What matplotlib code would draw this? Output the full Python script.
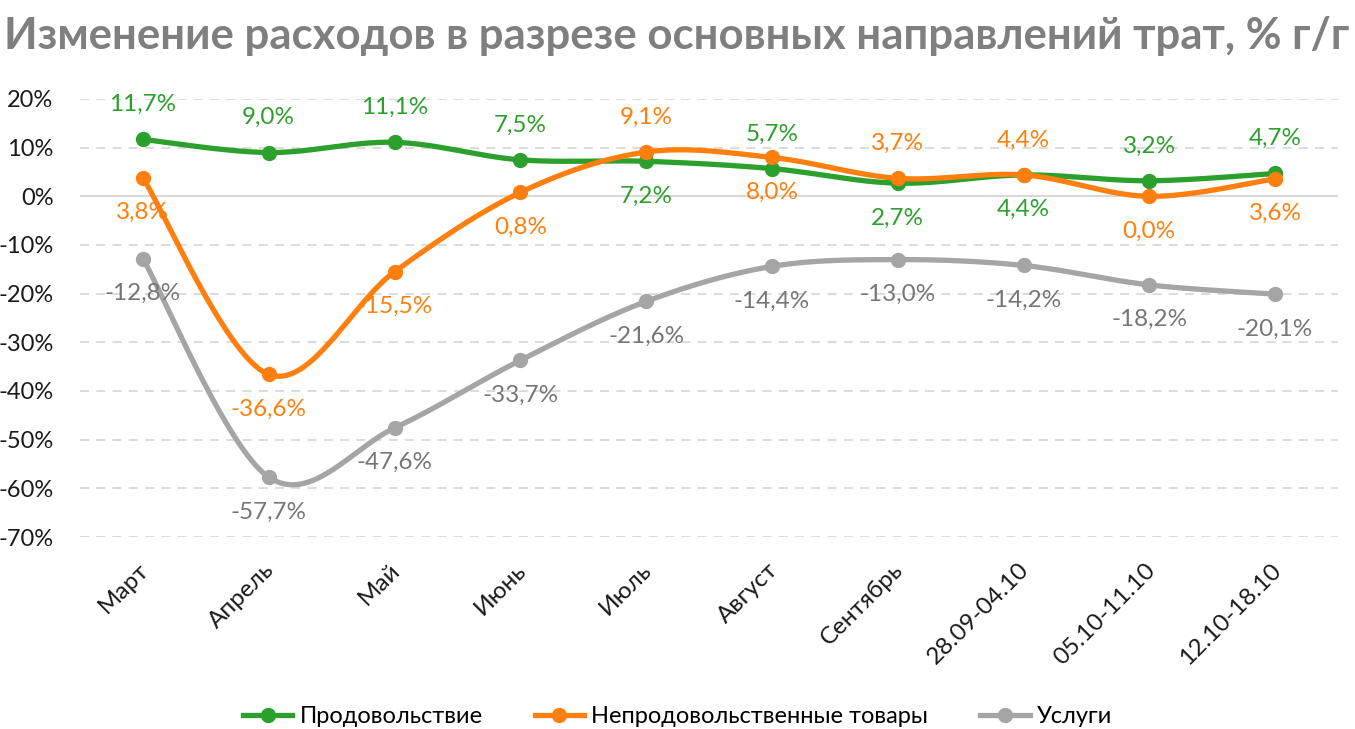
import numpy as np
import matplotlib
matplotlib.use("Agg")
import matplotlib.pyplot as plt
from matplotlib.lines import Line2D
import matplotlib.transforms as mtransforms

plt.rcParams['font.family'] = ['Lato', 'DejaVu Sans']

title = "Изменение расходов в разрезе основных направлений трат, % г/г"
categories = ["Март", "Апрель", "Май", "Июнь", "Июль", "Август", "Сентябрь",
              "28.09-04.10", "05.10-11.10", "12.10-18.10"]
series_names = ["Продовольствие", "Непродовольственные товары", "Услуги"]
food = [11.7, 9.0, 11.1, 7.5, 7.2, 5.7, 2.7, 4.4, 3.2, 4.7]
nonfood = [3.8, -36.6, -15.5, 0.8, 9.1, 8.0, 3.7, 4.4, 0.0, 3.6]
services = [-12.8, -57.7, -47.6, -33.7, -21.6, -14.4, -13.0, -14.2, -18.2, -20.1]
# label placement: +1 above, -1 below
food_pos = [1, 1, 1, 1, -1, 1, -1, -1, 1, 1]
nonfood_pos = [-1, -1, -1, -1, 1, -1, 1, 1, -1, -1]
services_pos = [-1] * 10
yticks = [20, 10, 0, -10, -20, -30, -40, -50, -60, -70]

colors = ["#2ca02c", "#ff7f0e", "#a5a5a5"]
label_colors = ["#2ca02c", "#ff7f0e", "#767676"]


def smooth(xs, ys, n=40):
    P = np.column_stack([xs, ys]).astype(float)
    P_ext = np.vstack([P[0], P, P[-1]])
    out = []
    t = np.linspace(0, 1, n)[:, None]
    for i in range(len(P) - 1):
        p0, p1, p2, p3 = P_ext[i], P_ext[i + 1], P_ext[i + 2], P_ext[i + 3]
        c1 = p1 + (p2 - p0) / 6.0
        c2 = p2 - (p3 - p1) / 6.0
        seg = ((1 - t) ** 3) * p1 + 3 * ((1 - t) ** 2) * t * c1 + 3 * (1 - t) * t ** 2 * c2 + t ** 3 * p2
        out.append(seg if i == 0 else seg[1:])
    arr = np.vstack(out)
    return arr[:, 0], arr[:, 1]


fig = plt.figure(figsize=(13.55, 7.29), dpi=100)
ax = fig.add_axes([80 / 1355, 1 - 537 / 729, (1338 - 80) / 1355, (537 - 99) / 729])

x = np.arange(len(categories))
ax.set_xlim(-0.5, len(categories) - 0.5)
ax.set_ylim(-70, 20)

for yv in yticks:
    if yv == 0:
        ax.axhline(yv, color="#d9d9d9", lw=1.5, zorder=1)
    else:
        ax.axhline(yv, color="#d9d9d9", lw=1.3, ls=(0, (5, 4)), zorder=1)

all_series = [food, nonfood, services]
all_pos = [food_pos, nonfood_pos, services_pos]
for k in range(3):
    sx, sy = smooth(x, all_series[k])
    ax.plot(sx, sy, color=colors[k], lw=3.8, solid_capstyle="round", zorder=3)
    ax.plot(x, all_series[k], "o", color=colors[k], ms=10, zorder=4)
    for xi, yi, p in zip(x, all_series[k], all_pos[k]):
        ax.annotate(f"{yi:.1f}%".replace(".", ","), (xi, yi), xytext=(0, 25 * p),
                    textcoords="offset points", ha="center", va="center",
                    color=label_colors[k], fontsize=17.5, zorder=5)

ax.set_yticks(yticks)
ax.set_yticklabels([f"{v}%" for v in yticks], fontsize=17, color="#1a1a1a")
ax.set_xticks(x)
ax.set_xticklabels(categories, rotation=45, ha="right", rotation_mode="anchor",
                   fontsize=17.5, color="#1a1a1a")
ax.tick_params(axis="both", length=0)
ax.tick_params(axis="y", pad=19)
ax.tick_params(axis="x", pad=16)
offset = mtransforms.ScaledTranslation(-5 / 100, 0, fig.dpi_scale_trans)
for lab in ax.get_xticklabels():
    lab.set_transform(lab.get_transform() + offset)
for s in ax.spines.values():
    s.set_visible(False)

fig.text(0.003, 0.978, title, fontsize=31.5, fontweight="bold", color="#7f7f7f",
         ha="left", va="top")

handles = [Line2D([0], [0], color=c, lw=3.8, marker="o", ms=10) for c in colors]
fig.legend(handles, series_names, loc="lower center", bbox_to_anchor=(0.5, -0.027),
           ncol=3, frameon=False, fontsize=17, handlelength=2.1, columnspacing=2.2,
           handletextpad=0.3)

fig.savefig("out.png", dpi=100)
